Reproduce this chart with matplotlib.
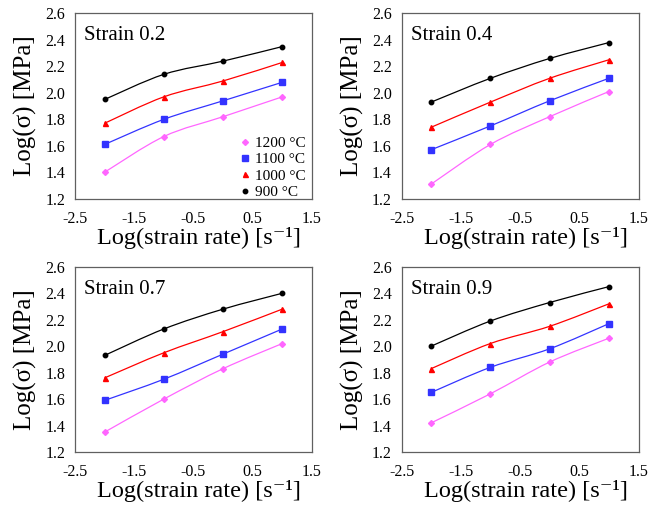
"""Flow stress vs strain rate, four strain levels (2x2 panels)."""
import matplotlib
matplotlib.use('Agg')
import matplotlib.pyplot as plt
from matplotlib.path import Path
from matplotlib.patches import PathPatch
from matplotlib.lines import Line2D
import numpy as np

plt.rcParams['font.family'] = ['Liberation Serif', 'DejaVu Serif']
plt.rcParams['axes.unicode_minus'] = False

# ── data ──
log_rate = [-2, -1, 0, 1]
temps = ['1200 °C', '1100 °C', '1000 °C', '900 °C']
strains = ['Strain 0.2', 'Strain 0.4', 'Strain 0.7', 'Strain 0.9']

s02 = [[1.40, 1.67, 1.82, 1.97],
       [1.61, 1.80, 1.94, 2.08],
       [1.77, 1.97, 2.09, 2.23],
       [1.95, 2.14, 2.24, 2.35]]
s04 = [[1.31, 1.61, 1.82, 2.01],
       [1.57, 1.75, 1.94, 2.11],
       [1.74, 1.93, 2.11, 2.25],
       [1.93, 2.11, 2.26, 2.38]]
s07 = [[1.35, 1.60, 1.83, 2.02],
       [1.59, 1.75, 1.94, 2.13],
       [1.76, 1.95, 2.11, 2.28],
       [1.93, 2.13, 2.28, 2.40]]
s09 = [[1.42, 1.64, 1.88, 2.06],
       [1.65, 1.84, 1.98, 2.17],
       [1.83, 2.02, 2.15, 2.32],
       [2.00, 2.19, 2.33, 2.45]]
panels = [s02, s04, s07, s09]

COLORS = ['#ff66ff', '#3333ff', '#ff0000', '#000000']
MARKERS = ['D', 's', '^', 'o']
MSIZES = [3.0, 4.2, 3.6, 3.2]


def smooth_line(ax, xs, ys, color):
    # Excel-style smoothed line: cubic Bezier through every point
    pts = np.column_stack([xs, ys]).astype(float)
    ext = np.vstack([pts[0], pts, pts[-1]])
    verts = [pts[0]]
    codes = [Path.MOVETO]
    for i in range(len(pts) - 1):
        p0, p1, p2, p3 = ext[i], ext[i + 1], ext[i + 2], ext[i + 3]
        verts += [p1 + (p2 - p0) / 6, p2 - (p3 - p1) / 6, p2]
        codes += [Path.CURVE4] * 3
    ax.add_patch(PathPatch(Path(verts, codes), fill=False, edgecolor=color,
                           linewidth=0.9, transform=ax.transData))


fig = plt.figure(figsize=(6.67, 5.07), dpi=100)
positions = [(0.1124, 0.6081), (0.602, 0.6081), (0.1124, 0.1085), (0.602, 0.1085)]
W, H = 0.3553, 0.3653

for (left, bottom), title, data in zip(positions, strains, panels):
    ax = fig.add_axes([left, bottom, W, H])
    for ys, c, m, ms in zip(data, COLORS, MARKERS, MSIZES):
        smooth_line(ax, log_rate, ys, c)
        ax.plot(log_rate, ys, linestyle='none', marker=m, ms=ms, color=c, zorder=3)
    ax.set_xlim(-2.5, 1.5)
    ax.set_ylim(1.2, 2.6)
    ax.set_xticks(np.arange(-2.5, 1.6, 1.0))
    ax.set_xticklabels(['-2.5', '-1.5', '-0.5', '0.5', '1.5'])
    ax.set_yticks(np.arange(1.2, 2.61, 0.2))
    ax.set_yticklabels([f'{v:.1f}' for v in np.arange(1.2, 2.61, 0.2)])
    ax.tick_params(length=0, labelsize=11.5)
    ax.tick_params(axis='x', pad=9)
    ax.tick_params(axis='y', pad=7)
    for sp in ax.spines.values():
        sp.set_color('#606060')
        sp.set_linewidth(0.9)
    ax.set_xlabel('Log(strain rate) [s⁻¹]', fontsize=17.5, labelpad=0)
    ax.xaxis.label.set_x(0.525)
    ax.set_ylabel('Log(σ) [MPa]', fontsize=18, labelpad=6)
    ax.text(0.04, 0.93, title, transform=ax.transAxes, fontsize=15, va='top', ha='left')

    if title == 'Strain 0.2':
        handles = [Line2D([], [], linestyle='none', marker=m, ms=ms, color=c)
                   for c, m, ms in zip(COLORS, MARKERS, MSIZES)]
        ax.legend(handles, temps, loc='lower right', frameon=False, fontsize=11,
                  handlelength=0.5, handletextpad=0.45, labelspacing=0.17,
                  borderaxespad=0.0, bbox_to_anchor=(1.0, -0.035))

fig.savefig('out.png', dpi=100)
